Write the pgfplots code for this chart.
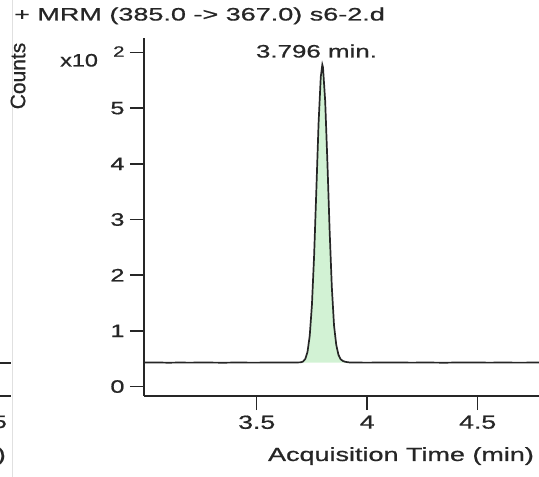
\documentclass[border=0pt]{standalone}
\usepackage{fontspec}
\setmainfont{Liberation Sans}[FakeBold=0.7]
\usepackage{graphicx}
\usepackage{pgfplots}
\pgfplotsset{compat=1.18}
\newcommand{\sx}[2][1.42]{\scalebox{#1}[1]{#2}}
\definecolor{peak}{HTML}{D2F2D4}
\definecolor{ink}{HTML}{262626}
\begin{document}
\begin{tikzpicture}[x=1pt,y=1pt]
\path[use as bounding box] (0,0) rectangle (539,477);
% fragments of the neighbouring panel
\draw[black!12, line width=0.8pt] (12,0) -- (12,477);
\draw[ink, line width=1.6pt] (0,114) -- (11,114);
\draw[ink, line width=1.6pt] (0,81) -- (11,81);
\node[anchor=base east, inner sep=0pt, text=ink, font=\fontsize{18}{20}\selectfont] at (7,49) {\sx[1.4]{5}};
\node[anchor=base east, inner sep=0pt, text=ink, font=\fontsize{19}{21}\selectfont] at (6,16) {\sx[1.4]{)}};
\begin{axis}[
  at={(144pt,81pt)}, anchor=south west,
  scale only axis, width=411pt, height=358pt,
  xmin=2.99, xmax=4.85, ymin=-0.17, ymax=6.26,
  axis lines*=left,
  axis line style={ink, line width=1.8pt},
  tick align=outside, major tick length=14pt,
  tick style={ink, line width=1.6pt},
  xtick={3.5,4,4.5},
  xticklabels={\sx[1.4]{3.5},\sx[1.4]{4},\sx[1.4]{4.5}},
  ytick={0,1,2,3,4,5,6},
  yticklabels={\sx[1.4]{0},\sx[1.4]{1},\sx[1.4]{2},\sx[1.4]{3},\sx[1.4]{4},\sx[1.4]{5},{\raisebox{2pt}{\fontsize{15}{16}\selectfont\sx[1.35]{2}}}},
  ticklabel style={font=\fontsize{18}{20}\selectfont, text=ink},
  xticklabel style={font=\fontsize{19}{21}\selectfont, yshift=-2pt},
  yticklabel style={xshift=-2pt},
  clip=false,
]
\addplot[fill=peak, draw=none] coordinates {
 (3.70,0.43) (3.71,0.450) (3.72,0.496) (3.73,0.622) (3.74,0.911) (3.75,1.468)
 (3.76,2.363) (3.77,3.533) (3.78,4.726) (3.79,5.561) (3.797,5.78) (3.80,5.735)
 (3.81,5.125) (3.82,4.028) (3.83,2.808) (3.84,1.785) (3.85,1.096) (3.86,0.75)
 (3.87,0.57) (3.88,0.49) (3.89,0.46) (3.90,0.445) (3.91,0.438) (3.92,0.43)
} -- cycle;
\addplot[ink, line width=1.7pt] coordinates {
 (2.99,0.430) (3.05,0.432) (3.10,0.428) (3.15,0.431) (3.20,0.429) (3.25,0.432)
 (3.30,0.430) (3.35,0.428) (3.40,0.431) (3.45,0.430) (3.50,0.429) (3.55,0.432)
 (3.60,0.430) (3.65,0.431) (3.68,0.432) (3.70,0.435)
 (3.71,0.450) (3.72,0.496) (3.73,0.622) (3.74,0.911) (3.75,1.468)
 (3.76,2.363) (3.77,3.533) (3.78,4.726) (3.79,5.561) (3.797,5.78) (3.80,5.735)
 (3.81,5.125) (3.82,4.028) (3.83,2.808) (3.84,1.785) (3.85,1.096) (3.86,0.75)
 (3.87,0.57) (3.88,0.49) (3.89,0.46) (3.90,0.445) (3.91,0.438) (3.92,0.433)
 (3.95,0.431) (4.00,0.429) (4.05,0.431) (4.10,0.430) (4.15,0.432) (4.20,0.429)
 (4.25,0.431) (4.30,0.430) (4.35,0.428) (4.40,0.431) (4.45,0.430) (4.50,0.432)
 (4.55,0.429) (4.60,0.431) (4.65,0.430) (4.70,0.429) (4.75,0.431) (4.80,0.430) (4.85,0.430)
};
\end{axis}
% texts
\node[anchor=base west, inner sep=0pt, text=ink, font=\fontsize{18}{20}\selectfont] at (14,456.5) {\sx[1.5]{+ MRM (385.0 -> 367.0) s6-2.d}};
\node[anchor=base, inner sep=0pt, text=ink, font=\fontsize{18}{20}\selectfont] at (316.5,419.5) {\sx[1.44]{3.796 min.}};
\node[anchor=base west, inner sep=0pt, text=ink, font=\fontsize{18}{20}\selectfont] at (60,410.5) {\sx[1.3]{x10}};
\node[rotate=90, inner sep=0pt, text=ink, font=\fontsize{21}{23}\selectfont] at (18,401) {Counts};
\node[anchor=base, inner sep=0pt, text=ink, font=\fontsize{19}{21}\selectfont] at (401,16) {\sx[1.42]{Acquisition Time (min)}};
\end{tikzpicture}
\end{document}
